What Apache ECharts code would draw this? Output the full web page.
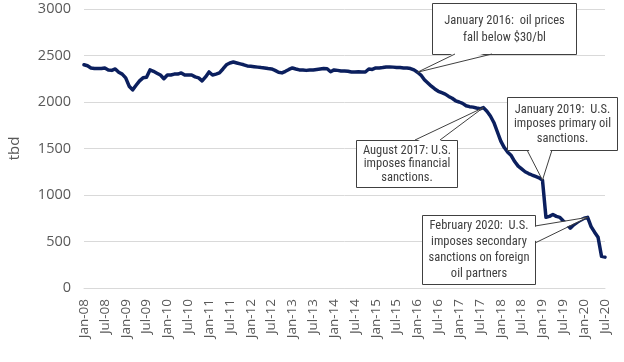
<!DOCTYPE html>
<html>
<head>
<meta charset="utf-8">
<script src="https://cdn.jsdelivr.net/npm/echarts@6/dist/echarts.min.js"></script>
<style>html,body{margin:0;padding:0;background:#fff}#c{width:624px;height:362px}</style>
</head>
<body>
<div id="c"></div>
<script>
var monthNames = ['Jan','Feb','Mar','Apr','May','Jun','Jul','Aug','Sep','Oct','Nov','Dec'];
var years = ['08','09','10','11','12','13','14','15','16','17','18','19','20'];
var categories = [];
years.forEach(function (y) { monthNames.forEach(function (m) { categories.push(m + '-' + y); }); });
categories = categories.slice(0, 151); // Jan-08 .. Jul-20

var production = [
  2400,2390,2366,2360,2360,2360,2366,2345,2340,2355,2320,2300,
  2260,2170,2130,2180,2227,2260,2265,2345,2330,2310,2290,2250,
  2290,2290,2300,2300,2313,2290,2290,2290,2270,2260,2227,2270,
  2323,2290,2300,2313,2355,2400,2420,2430,2420,2410,2400,2388,
  2385,2380,2375,2370,2366,2360,2355,2340,2320,2313,2330,2350,
  2366,2355,2345,2345,2340,2345,2345,2350,2355,2360,2358,2325,
  2345,2340,2334,2334,2330,2323,2323,2325,2323,2323,2355,2350,
  2366,2366,2370,2377,2377,2375,2372,2370,2366,2366,2360,2345,
  2320,2290,2240,2205,2170,2140,2115,2100,2085,2060,2040,2013,
  2000,1985,1960,1950,1945,1935,1927,1940,1900,1850,1780,1680,
  1580,1510,1460,1424,1360,1310,1280,1250,1231,1215,1200,1185,
  1160,760,770,790,770,760,720,690,643,680,707,730,
  750,760,660,600,546,340,332
];

var yTicks = [0, 500, 1000, 1500, 2000, 2500, 3000];

var annotations = [
  { cat: 'Jan-16', lines: ['January 2016:  oil prices', 'fall below $30/bl'] },
  { cat: 'Aug-17', lines: ['August 2017: U.S.', 'imposes financial', 'sanctions.'] },
  { cat: 'Jan-19', lines: ['January 2019:  U.S.', 'imposes primary oil', 'sanctions.'] },
  { cat: 'Feb-20', lines: ['February 2020:  U.S.', 'imposes secondary', 'sanctions on foreign', 'oil partners'] }
];

// box layout (pixels) for each annotation
var boxLayout = [
  { x: 432, y: 3, w: 144, h: 51, side: 'bottom', b1: 455, b2: 492, lh: 17 },
  { x: 356, y: 140, w: 101, h: 47, side: 'top', b1: 415, b2: 440, lh: 13.5 },
  { x: 507, y: 97, w: 110, h: 53, side: 'bottom', b1: 527, b2: 552, lh: 14.5 },
  { x: 422, y: 215, w: 113, h: 69, side: 'right', b1: 226, b2: 243, lh: 16 }
];

var chart = echarts.init(document.getElementById('c'), null, { renderer: 'canvas' });
var labelFont = '"Open Sans", "Liberation Sans", sans-serif';
chart.setOption({
  animation: false,
  backgroundColor: '#ffffff',
  grid: { left: 84, right: 19, top: 9, bottom: 74, containLabel: false, outerBoundsMode: 'none' },
  xAxis: {
    type: 'category',
    data: categories,
    boundaryGap: false,
    axisLine: { show: true, lineStyle: { color: '#d9d9d9', width: 1 } },
    axisTick: { show: false },
    splitLine: { show: false },
    axisLabel: { interval: 5, rotate: 90, margin: 11, fontSize: 13.5, color: '#595959', fontFamily: labelFont }
  },
  yAxis: {
    type: 'value',
    min: yTicks[0],
    max: yTicks[yTicks.length - 1],
    interval: 500,
    name: 'tbd',
    nameLocation: 'middle',
    nameGap: 62,
    nameRotate: 90,
    nameTextStyle: { fontSize: 15, color: '#595959', fontFamily: labelFont },
    axisLine: { show: false },
    axisTick: { show: false },
    splitLine: { show: true, lineStyle: { color: '#d9d9d9', width: 1 } },
    axisLabel: { margin: 13, fontSize: 14.5, color: '#595959', fontFamily: labelFont,
      formatter: function (v) { return String(v); } }
  },
  series: [{
    type: 'line',
    data: production,
    showSymbol: false,
    symbol: 'none',
    lineStyle: { color: '#0b1f5e', width: 3.5, join: 'round', cap: 'round' },
    z: 2
  }]
});

var annFont = '"Liberation Sans Narrow", "Arial Narrow", "Roboto Condensed", sans-serif';
var elements = [];
annotations.forEach(function (a, k) {
  var L = boxLayout[k];
  var idx = categories.indexOf(a.cat);
  var p = chart.convertToPixel({ gridIndex: 0 }, [idx, production[idx]]);
  var q1, q2, c1, c2;
  if (L.side === 'bottom') {
    q1 = [L.b1, L.y + L.h]; q2 = [L.b2, L.y + L.h];
    c1 = [L.b1 + 1, L.y + L.h - 2]; c2 = [L.b2 - 1, L.y + L.h - 2];
  } else if (L.side === 'top') {
    q1 = [L.b1, L.y]; q2 = [L.b2, L.y];
    c1 = [L.b1 + 1, L.y + 2]; c2 = [L.b2 - 1, L.y + 2];
  } else {
    q1 = [L.x + L.w, L.b1]; q2 = [L.x + L.w, L.b2];
    c1 = [L.x + L.w - 2, L.b1 + 1]; c2 = [L.x + L.w - 2, L.b2 - 1];
  }
  elements.push({
    type: 'rect', z: 100,
    shape: { x: L.x + 0.5, y: L.y + 0.5, width: L.w, height: L.h },
    style: { fill: '#ffffff', stroke: '#404040', lineWidth: 1 }
  });
  elements.push({
    type: 'polygon', z: 101,
    shape: { points: [c1, p, c2] },
    style: { fill: '#ffffff', stroke: null }
  });
  elements.push({
    type: 'polyline', z: 102,
    shape: { points: [q1, p, q2] },
    style: { stroke: '#404040', lineWidth: 1, fill: null }
  });
  elements.push({
    type: 'text', z: 103,
    style: {
      text: a.lines.join('\n'),
      x: L.x + L.w / 2 + 0.5,
      y: L.y + L.h / 2 + 0.5,
      align: 'center',
      verticalAlign: 'middle',
      fontSize: 12.5,
      lineHeight: L.lh,
      fontFamily: annFont,
      fill: '#404040'
    }
  });
});
chart.setOption({ graphic: { elements: elements } });
</script>
</body>
</html>
